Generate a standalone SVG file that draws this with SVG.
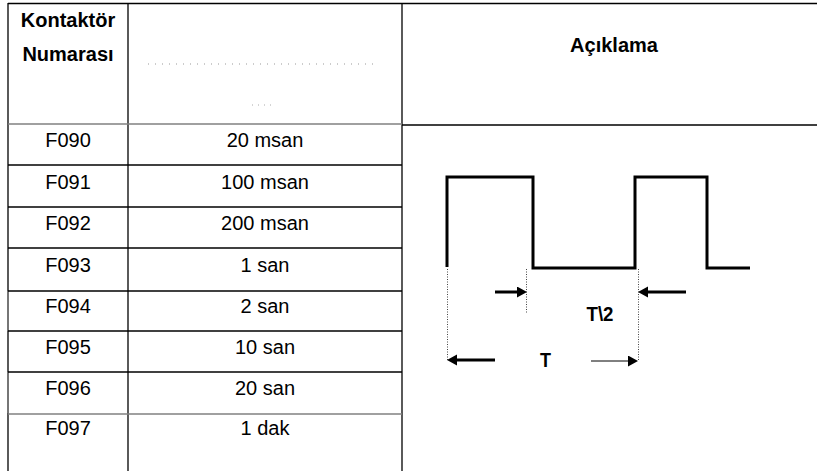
<svg xmlns="http://www.w3.org/2000/svg" width="819" height="471" viewBox="0 0 819 471">
<style>
.t{font-family:"Liberation Sans",Arial,sans-serif;font-size:20px;fill:#000;text-anchor:middle}
.b{font-weight:bold}
.g{stroke:#000;stroke-width:1.3;fill:none}
.gg{stroke:#808080;stroke-width:1.5;fill:none}
.w{stroke:#000;stroke-width:3;fill:none;stroke-linejoin:miter}
.d{stroke:#444;stroke-width:1;stroke-dasharray:1 1.5;fill:none}
.a{stroke:#000;fill:none}
</style>
<defs>
<marker id="ah" markerUnits="userSpaceOnUse" markerWidth="11" markerHeight="12" refX="0" refY="5.5" orient="auto">
<path d="M0,0 L10,5.5 L0,11 z" fill="#000"/>
</marker>
</defs>
<rect width="819" height="471" fill="#fff"/>
<g id="table">
<line class="g" x1="8" y1="3.5" x2="817" y2="3.5"/>
<line class="g" x1="8" y1="3" x2="8" y2="471"/>
<line class="gg" x1="8" y1="291" x2="8" y2="331"/>
<line class="gg" x1="8" y1="372" x2="8" y2="413"/>
<line class="g" x1="128" y1="3" x2="128" y2="471"/>
<line class="g" x1="402" y1="3" x2="402" y2="471"/>
<line class="gg" x1="8" y1="124" x2="402" y2="124"/>
<line class="g" x1="402" y1="125" x2="817" y2="125"/>
<line class="g" x1="8" y1="165" x2="402" y2="165"/>
<line class="g" x1="8" y1="207" x2="402" y2="207"/>
<line class="g" x1="8" y1="248" x2="402" y2="248"/>
<line class="g" x1="8" y1="291" x2="402" y2="291"/>
<line class="g" x1="8" y1="331" x2="402" y2="331"/>
<line class="g" x1="8" y1="372" x2="402" y2="372"/>
<line class="gg" x1="8" y1="414" x2="402" y2="414"/>
</g>
<g id="header">
<text class="t b" x="68" y="27">Kontaktör</text>
<text class="t b" x="68" y="61">Numarası</text>
<line stroke="#999" stroke-width="1" stroke-dasharray="1 6" x1="148" y1="64" x2="378" y2="64"/>
<line stroke="#aaa" stroke-width="1" stroke-dasharray="1 5" x1="252" y1="105" x2="272" y2="105"/>
<text class="t b" x="614" y="52">Açıklama</text>
</g>
<g id="rows">
<g id="r0"><text class="t" x="68" y="147">F090</text><text class="t" x="265" y="147">20 msan</text></g>
<g id="r1"><text class="t" x="68" y="189">F091</text><text class="t" x="265" y="189">100 msan</text></g>
<g id="r2"><text class="t" x="68" y="230">F092</text><text class="t" x="265" y="230">200 msan</text></g>
<g id="r3"><text class="t" x="68" y="272">F093</text><text class="t" x="265" y="272">1 san</text></g>
<g id="r4"><text class="t" x="68" y="313">F094</text><text class="t" x="265" y="313">2 san</text></g>
<g id="r5"><text class="t" x="68" y="354">F095</text><text class="t" x="265" y="354">10 san</text></g>
<g id="r6"><text class="t" x="68" y="395">F096</text><text class="t" x="265" y="395">20 san</text></g>
<g id="r7"><text class="t" x="68" y="435">F097</text><text class="t" x="265" y="435">1 dak</text></g>
</g>
<g id="waveform">
<path class="w" d="M447,267 V177 H533 V268 H635 V177 H707 V268 H750"/>
<line class="d" x1="447.5" y1="269" x2="447.5" y2="360"/>
<line class="d" x1="526.5" y1="269" x2="526.5" y2="313"/>
<line class="d" x1="638.5" y1="269" x2="638.5" y2="360"/>
<text class="t b" x="600" y="321" font-size="22" textLength="27" lengthAdjust="spacingAndGlyphs">T\2</text>
<text class="t b" x="545.5" y="367" font-size="22" textLength="11" lengthAdjust="spacingAndGlyphs">T</text>
</g>
<g id="connectors">
<line class="a" stroke-width="3" x1="495" y1="292" x2="517" y2="292" marker-end="url(#ah)"/>
<line class="a" stroke-width="3" x1="686" y1="292" x2="648" y2="292" marker-end="url(#ah)"/>
<line class="a" stroke-width="3" x1="495" y1="360" x2="457" y2="360" marker-end="url(#ah)"/>
<line class="a" stroke-width="1" x1="591" y1="361" x2="628" y2="361" marker-end="url(#ah)"/>
</g>
</svg>
